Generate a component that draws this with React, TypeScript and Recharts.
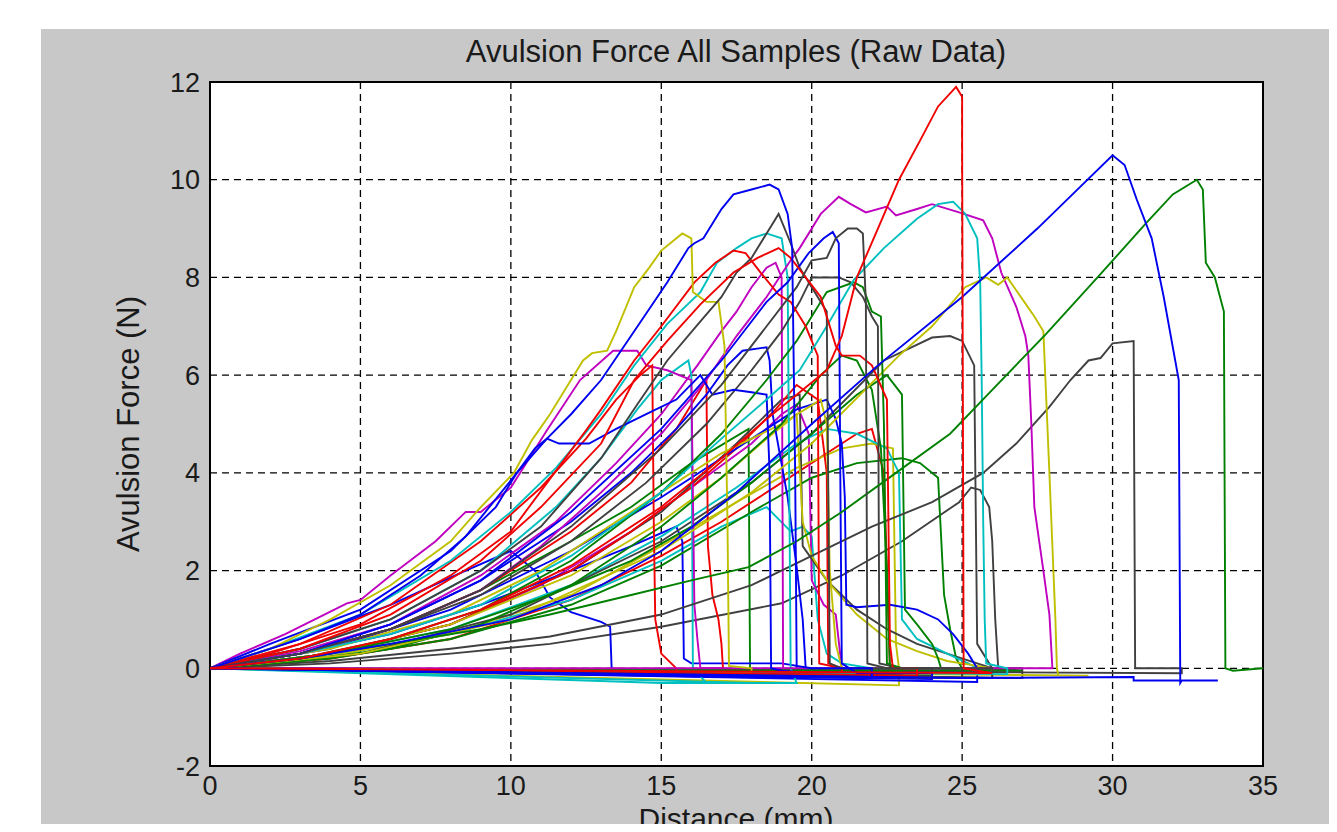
import { LineChart, Line, XAxis, YAxis, CartesianGrid, ReferenceArea } from "recharts";

// ── Axis ticks ───────────────────────────────────────────────
const xTicks = [0, 5, 10, 15, 20, 25, 30, 35];
const yTicks = [-2, 0, 2, 4, 6, 8, 10, 12];

type Pt = [number, number];

// ── Samples (distance mm, force N) ───────────────────────────
const blueTall: Pt[] = [[0, 0], [1, 0.2], [3, 0.6], [5, 1.1], [7, 1.9], [8.5, 2.7], [10.2, 4.0], [11.2, 4.7], [12, 5.2], [13, 5.9], [14.1, 6.9], [15.2, 7.9], [15.9, 8.6], [16.1, 8.7], [16.4, 8.8], [17, 9.4], [17.4, 9.7], [18, 9.8], [18.6, 9.9], [18.9, 9.8], [19.2, 9.3], [19.35, 8.6], [19.45, 4.0], [19.5, 0.05], [20, 0], [22, 0], [22, -0.2], [0, 0]];
const greenLong: Pt[] = [[0, 0], [3, 0.2], [6, 0.5], [9, 0.8], [11.3, 1.1], [14, 1.5], [16, 1.8], [17.9, 2.07], [19.5, 2.6], [21, 3.2], [22.8, 4.0], [24.6, 4.8], [26, 5.7], [27.8, 6.85], [29.5, 8.0], [31.1, 9.1], [32, 9.7], [32.8, 10], [33, 9.8], [33.1, 8.3], [33.4, 8.0], [33.7, 7.3], [33.75, 0], [34, -0.05], [35, 0]];
const redA: Pt[] = [[0, 0], [2, 0.3], [5, 0.9], [8, 1.9], [10, 2.8], [12.5, 4.87], [13, 5.3], [14.1, 6.3], [15, 7.0], [16.1, 7.9], [16.8, 8.3], [17.4, 8.55], [17.8, 8.5], [18.3, 8.1], [18.9, 7.65], [19.3, 7.5], [19.8, 7.0], [20.2, 6.4], [20.25, 0.1], [21, 0], [21, -0.1], [0, 0]];
const cyanPeak: Pt[] = [[0, 0], [2, 0.4], [5, 1.1], [8, 2.2], [10, 3.2], [11.5, 4.1], [13, 5.2], [14.1, 6.2], [15.2, 7.05], [16.3, 7.7], [16.85, 8.3], [17.5, 8.6], [18, 8.8], [18.5, 8.9], [19, 8.8], [19.2, 8.0], [19.25, 4.0], [19.3, 0], [19.5, -0.3], [15, -0.3], [0, 0]];
const magentaEarly: Pt[] = [[0, 0], [1, 0.3], [2.5, 0.7], [4.55, 1.33], [5, 1.4], [6, 1.9], [7.5, 2.6], [8.5, 3.2], [9, 3.2], [10, 3.7], [11.2, 4.87], [12.3, 5.9], [13.4, 6.5], [14.2, 6.5], [14.5, 6.2], [15.2, 6.1], [16, 5.9], [16.1, 1.3], [16.2, 0.6], [16.3, 0], [17, 0], [17, -0.15], [0, 0]];
const yellowPeak: Pt[] = [[0, 0], [2, 0.4], [4, 1.0], [6, 1.7], [8, 2.6], [9, 3.3], [10.1, 4.0], [10.7, 4.67], [11.3, 5.2], [11.85, 5.75], [12.4, 6.3], [12.7, 6.45], [13.2, 6.5], [13.5, 6.9], [14.1, 7.8], [14.6, 8.2], [15, 8.55], [15.4, 8.75], [15.7, 8.9], [16, 8.8], [16.05, 7.7], [16.5, 7.5], [16.9, 7.5], [17.1, 6.6], [17.2, 3.0], [17.25, 0.05], [18, 0], [18, -0.1], [0, 0]];
const grayA: Pt[] = [[0, 0], [3, 0.4], [6, 1.0], [9, 2.0], [11, 2.9], [13, 4.3], [14.2, 5.4], [15.2, 6.3], [16.3, 7.1], [17, 7.6], [17.5, 8.1], [18, 8.4], [18.5, 8.9], [18.9, 9.3], [19.3, 8.7], [19.6, 8.2], [20, 7.8], [20.5, 7.3], [20.6, 0.1], [21, 0], [24, 0], [24, -0.15], [0, 0]];
const blueKink: Pt[] = [[0, 0], [2, 0.5], [5, 1.2], [8, 2.4], [9.5, 3.3], [10.2, 4.0], [10.8, 4.5], [11.2, 4.7], [11.6, 4.6], [12.6, 4.6], [13.5, 4.9], [14.5, 5.2], [15.5, 5.5], [16.3, 6.0], [16.7, 5.6], [17.4, 5.7], [18, 5.65], [18.5, 5.6], [18.6, 4.0], [18.65, 0], [19, -0.05], [20, -0.1], [0, 0]];
const greenA: Pt[] = [[0, 0], [3, 0.2], [6, 0.6], [9, 1.2], [12, 2.2], [15, 3.6], [17, 4.8], [18.5, 5.9], [19.5, 6.7], [20.5, 7.7], [21.4, 7.9], [21.7, 7.8], [22, 7.3], [22.3, 7.2], [22.4, 5.0], [22.5, 0.1], [23, 0], [23, -0.12], [0, 0]];
const redB: Pt[] = [[0, 0], [3, 0.4], [6, 1.1], [9, 2.2], [11, 3.3], [13, 4.6], [14.1, 5.9], [15.2, 6.7], [16.3, 7.45], [17.4, 8.1], [18.2, 8.4], [18.9, 8.6], [19.3, 8.4], [19.8, 8.0], [20.3, 7.6], [20.8, 6.6], [21, 6.4], [21.6, 6.4], [22, 6.2], [22.5, 5.5], [22.6, 0.5], [22.7, 0], [23.5, 0], [23.5, -0.15], [0, 0]];
const cyanDrop: Pt[] = [[0, 0], [3, 0.4], [6, 1.0], [9, 2.0], [11.5, 3.3], [13, 4.3], [14.2, 5.3], [15, 5.9], [15.9, 6.3], [16, 6.0], [16.05, 0], [16.5, -0.3], [18, -0.3], [0, 0]];
const magentaSteep: Pt[] = [[0, 0], [3, 0.35], [6, 0.9], [9, 1.9], [11.5, 3.0], [13.5, 4.2], [15, 5.2], [16.2, 6.2], [17, 6.9], [17.5, 7.3], [18, 7.8], [18.5, 8.2], [18.8, 8.3], [19, 8.0], [19.05, 0], [19.5, -0.05], [0, 0]];
const yellowMid: Pt[] = [[0, 0], [4, 0.4], [8, 1.1], [11, 2.0], [13, 2.8], [15, 3.6], [17, 4.4], [19, 5.0], [20.3, 5.5], [20.5, 5.0], [20.6, 2.0], [20.8, 0.5], [21, 0], [21, -0.12], [0, 0]];
const grayB: Pt[] = [[0, 0], [3, 0.3], [6, 0.8], [9, 1.6], [12, 2.9], [15, 4.5], [17, 5.8], [18.5, 7.0], [19.5, 7.8], [20, 8.35], [20.5, 8.4], [20.8, 8.8], [21.2, 9.0], [21.5, 9.0], [21.7, 8.9], [21.8, 7.5], [21.85, 0.1], [22.5, 0], [25, 0], [25, -0.2], [0, 0]];
const blueC: Pt[] = [[0, 0], [3, 0.3], [6, 0.9], [9, 1.8], [12, 3.2], [15, 4.9], [17, 6.3], [18.5, 7.5], [19.2, 7.9], [19.9, 8.5], [20.4, 8.8], [20.7, 8.93], [20.9, 8.7], [20.95, 4.0], [21, 0.1], [21.5, -0.1], [24, -0.1], [24, -0.22], [0, 0]];
const greenB: Pt[] = [[0, 0], [3, 0.15], [6, 0.4], [9, 0.9], [12, 1.7], [15, 2.9], [17, 3.9], [19, 5.0], [20.3, 6.0], [21, 6.4], [21.5, 6.3], [22, 5.7], [22.3, 4.5], [22.5, 2.0], [22.6, 0], [23, -0.05], [0, 0]];
const redTall: Pt[] = [[0, 0], [3, 0.2], [6, 0.6], [9, 1.2], [12, 2.1], [15, 3.3], [17, 4.3], [18.5, 5.1], [19.5, 5.6], [20.5, 6.1], [21, 6.8], [21.5, 8.0], [22.2, 9.0], [22.9, 10], [23.6, 10.8], [24.2, 11.5], [24.8, 11.9], [25, 11.7], [25, 10.6], [25.05, 0], [25.5, -0.05], [26, -0.1], [0, 0]];
const cyanPlateau: Pt[] = [[0, 0], [3, 0.3], [6, 0.7], [9, 1.3], [12, 2.3], [15, 3.6], [17, 4.7], [18.5, 5.5], [19.6, 6.1], [20.5, 7.0], [21.4, 7.95], [22.4, 8.6], [23.5, 9.2], [24.2, 9.5], [24.7, 9.55], [25.1, 9.3], [25.5, 8.8], [25.6, 7.9], [25.65, 5.9], [25.7, 3.0], [25.75, 1.0], [25.8, 0.1], [26.5, 0], [26.5, -0.12], [0, 0]];
const magentaPlateau: Pt[] = [[0, 0], [3, 0.3], [6, 0.8], [9, 1.6], [11, 2.5], [13, 3.6], [15, 4.8], [16.5, 5.9], [17.5, 6.8], [18.5, 7.6], [19.3, 8.35], [19.6, 8.6], [20.3, 9.3], [20.9, 9.65], [21.3, 9.5], [21.8, 9.33], [22.5, 9.45], [22.8, 9.27], [23.5, 9.4], [24, 9.5], [24.9, 9.33], [25.7, 9.17], [26, 8.8], [26.3, 8.1], [26.8, 7.4], [27.1, 6.8], [27.2, 6.4], [27.3, 5.0], [27.4, 3.3], [27.7, 2.0], [27.9, 1.1], [28, 0], [0, 0]];
const yellowPlateau: Pt[] = [[0, 0], [5, 0.3], [10, 1.0], [15, 2.4], [18, 3.6], [20, 4.6], [22.9, 6.4], [24, 7.0], [25.1, 7.8], [25.8, 8.0], [26.2, 7.85], [26.5, 8.0], [27.4, 7.2], [27.7, 6.9], [27.9, 4.0], [28.1, 1.0], [28.15, 0], [28.2, -0.15], [29.2, -0.15], [0, 0]];
const grayC: Pt[] = [[0, 0], [3, 0.3], [6, 0.8], [9, 1.5], [12, 2.6], [14.5, 3.8], [16.5, 5.0], [18, 6.1], [19, 6.9], [19.6, 7.5], [20, 8.0], [20.5, 8.0], [20.9, 8.0], [21.3, 7.9], [21.7, 7.6], [22, 7.2], [22.2, 7.0], [22.25, 0.1], [23, 0], [26, 0], [26, -0.2], [0, 0]];
const blueLong: Pt[] = [[0, 0], [3, 0.2], [6, 0.5], [10, 1.0], [13, 1.7], [15, 2.4], [17.5, 3.6], [20, 5.0], [22.2, 6.2], [25, 7.6], [27.5, 9.0], [29, 9.9], [30, 10.5], [30.4, 10.3], [30.8, 9.6], [31.3, 8.8], [31.7, 7.6], [32.2, 5.9], [32.25, -0.3], [32.3, -0.25], [33.5, -0.25], [30.7, -0.25], [30.7, -0.18], [25, -0.2], [0, 0]];
const greenC: Pt[] = [[0, 0], [3, 0.3], [6, 0.8], [9, 1.6], [12, 2.6], [14, 3.3], [16, 4.2], [17.9, 4.9], [17.95, 0], [18.5, -0.05], [0, 0]];
const redDrop: Pt[] = [[0, 0], [3, 0.5], [6, 1.3], [9, 2.6], [11, 3.7], [12.5, 4.7], [13.5, 5.5], [14.3, 6.0], [14.7, 6.2], [14.75, 3.0], [14.8, 1.0], [15, 0.3], [15.5, 0], [15.5, -0.1], [0, 0]];
const cyanTail: Pt[] = [[0, 0], [4, 0.3], [8, 0.8], [12, 1.7], [15, 2.7], [17.5, 3.7], [19.5, 4.6], [20.5, 4.9], [21.5, 4.8], [22.5, 4.5], [22.9, 4.0], [23, 1.0], [23.5, 0.6], [24.5, 0.3], [25.2, 0.1], [25.5, 0], [25.5, -0.2], [0, 0]];
const magentaLow: Pt[] = [[0, 0], [4, 0.3], [8, 0.9], [11, 1.7], [14, 2.8], [16, 3.7], [18, 4.6], [19, 5.2], [19.5, 5.4], [19.9, 4.8], [20, 1.8], [20.4, 1.3], [20.8, 1.1], [21, 0], [21, -0.1], [0, 0]];
const yellowDecay: Pt[] = [[0, 0], [4, 0.3], [8, 0.9], [12, 1.9], [15, 3.0], [17, 3.9], [18.5, 4.7], [19.5, 5.2], [19.7, 3.0], [20, 2.3], [20.5, 1.8], [21.5, 1.1], [22.5, 0.6], [23.5, 0.35], [24.5, 0.15], [25.5, 0.05], [26, 0], [26, -0.1], [0, 0]];
const grayMid: Pt[] = [[0, 0], [5, 0.3], [10, 1.1], [15, 2.6], [18, 3.8], [20, 4.8], [22.4, 6.3], [24, 6.77], [24.6, 6.8], [25, 6.7], [25.4, 6.2], [25.5, 0.5], [26, 0], [27, 0], [27, -0.2], [0, 0]];
const blueTail: Pt[] = [[0, 0], [4, 0.4], [8, 1.2], [12, 2.4], [15, 3.5], [17, 4.3], [18.5, 4.9], [19.5, 5.3], [20.5, 5.5], [20.8, 5.1], [21, 4.6], [21.1, 3.5], [21.15, 1.3], [21.5, 1.25], [22.6, 1.3], [23.5, 1.2], [24.2, 1.0], [24.7, 0.7], [25.2, 0.3], [25.5, 0], [25.5, -0.28], [0, 0]];
const greenD: Pt[] = [[0, 0], [4, 0.2], [8, 0.6], [12, 1.3], [15, 2.1], [18, 3.2], [20, 3.9], [21.5, 4.2], [23, 4.3], [23.6, 4.2], [24.2, 3.9], [24.4, 1.5], [24.6, 0.8], [24.8, 0.2], [25, 0], [27, -0.05], [0, 0]];
const redDip: Pt[] = [[0, 0], [3, 0.3], [6, 0.8], [9, 1.6], [12, 2.8], [14, 3.8], [15.5, 4.9], [16.2, 5.6], [16.5, 5.9], [16.55, 2.5], [16.7, 1.5], [16.9, 1.0], [17, 0.5], [17.05, 0], [18, -0.1], [0, 0]];
const grayLong: Pt[] = [[0, 0], [4, 0.15], [8, 0.4], [11.3, 0.65], [15, 1.1], [18, 1.7], [20, 2.3], [22, 2.9], [24, 3.4], [25.7, 4.0], [26.8, 4.6], [27.9, 5.35], [28.6, 5.9], [29.2, 6.3], [29.6, 6.35], [30, 6.65], [30.7, 6.7], [30.75, 0], [32.3, 0], [32.3, -0.1], [0, 0]];
const blueBump: Pt[] = [[0, 0], [3, 0.3], [6, 0.9], [9, 1.8], [12, 3.0], [14, 4.0], [15.5, 4.9], [16.5, 5.6], [17.2, 6.2], [17.7, 6.5], [18.5, 6.57], [18.6, 6.3], [18.7, 5.2], [19.2, 3.5], [19.5, 2.07], [19.7, 1.0], [19.8, 0], [19.8, -0.2], [0, 0]];
const greenE: Pt[] = [[0, 0], [4, 0.3], [8, 0.8], [11.3, 1.5], [14, 2.2], [16, 2.9], [18, 3.8], [20, 4.8], [21.5, 5.6], [22.5, 6.0], [23, 5.6], [23.1, 1.2], [23.5, 0.9], [24, 0.5], [24.2, 0.2], [24.3, 0], [25, -0.05], [0, 0]];
const redLow: Pt[] = [[0, 0], [4, 0.3], [8, 0.9], [12, 2.0], [14, 2.8], [16, 3.7], [17.5, 4.5], [18.8, 5.3], [19.5, 5.8], [20.2, 5.5], [20.5, 4.0], [20.55, 0.1], [21, 0], [21, -0.1], [0, 0]];
const cyanLow: Pt[] = [[0, 0], [4, 0.25], [8, 0.7], [12, 1.4], [15, 2.2], [17, 2.9], [18.5, 3.3], [19.3, 2.8], [19.7, 2.9], [20, 2.7], [20.2, 1.0], [20.5, 0.3], [21, 0.1], [22, 0], [22, -0.1], [0, 0]];
const yellowLow: Pt[] = [[0, 0], [4, 0.25], [8, 0.7], [12, 1.5], [15, 2.5], [17.5, 3.4], [19.5, 4.1], [21, 4.5], [22, 4.6], [22.7, 4.5], [22.8, 0.5], [22.9, 0], [22.9, -0.35], [0, 0]];
const blueLow: Pt[] = [[0, 0], [3, 0.6], [6, 1.3], [8.5, 2.0], [10, 2.4], [10.8, 2.0], [11.3, 1.45], [12, 1.15], [13, 0.95], [13.3, 0.85], [13.35, 0], [14, -0.05], [0, 0]];
const grayLow: Pt[] = [[0, 0], [4, 0.1], [8, 0.3], [11.3, 0.5], [15, 0.85], [19, 1.33], [21, 1.9], [23, 2.6], [24.9, 3.4], [25.3, 3.7], [25.6, 3.65], [25.9, 3.3], [26, 2.6], [26.1, 1.0], [26.2, 0], [27, -0.05], [0, 0]];
const redShallow: Pt[] = [[0, 0], [4, 0.2], [8, 0.6], [12, 1.4], [15, 2.3], [17, 3.0], [19, 3.8], [20.5, 4.4], [21.5, 4.8], [22, 4.9], [22.4, 4.0], [22.5, 2.07], [22.6, 0], [23, -0.1], [0, 0]];
const blueStep: Pt[] = [[0, 0], [3, 0.3], [6, 0.7], [9, 1.3], [12, 2.0], [14, 2.5], [15.5, 2.9], [15.7, 2.6], [15.75, 0.2], [16, 0.1], [19, 0.1], [19.5, 0.05], [19.5, -0.2], [0, 0]];
const grayDecay: Pt[] = [[0, 0], [4, 0.3], [8, 0.9], [12, 2.0], [15, 3.2], [17.5, 4.6], [19, 5.5], [19.6, 5.6], [19.7, 2.5], [20.5, 1.8], [21.5, 1.2], [22.5, 0.8], [23.5, 0.5], [24.5, 0.3], [25.5, 0.1], [26, 0], [26, -0.2], [0, 0]];

const BLUE = "#0000f0";
const GREEN = "#008000";
const RED = "#f00000";
const CYAN = "#00bfbf";
const MAGENTA = "#bf00bf";
const YELLOW = "#bfbf00";
const BLACK = "#404040";

const samples: { pts: Pt[]; color: string }[] = [
  { pts: grayLow, color: BLACK },
  { pts: blueLow, color: BLUE },
  { pts: greenC, color: GREEN },
  { pts: redShallow, color: RED },
  { pts: cyanLow, color: CYAN },
  { pts: magentaLow, color: MAGENTA },
  { pts: yellowLow, color: YELLOW },
  { pts: grayDecay, color: BLACK },
  { pts: blueStep, color: BLUE },
  { pts: greenD, color: GREEN },
  { pts: redLow, color: RED },
  { pts: cyanTail, color: CYAN },
  { pts: magentaSteep, color: MAGENTA },
  { pts: yellowDecay, color: YELLOW },
  { pts: grayMid, color: BLACK },
  { pts: blueTail, color: BLUE },
  { pts: greenE, color: GREEN },
  { pts: redDip, color: RED },
  { pts: cyanDrop, color: CYAN },
  { pts: magentaEarly, color: MAGENTA },
  { pts: yellowMid, color: YELLOW },
  { pts: grayLong, color: BLACK },
  { pts: blueBump, color: BLUE },
  { pts: greenB, color: GREEN },
  { pts: redDrop, color: RED },
  { pts: cyanPeak, color: CYAN },
  { pts: magentaPlateau, color: MAGENTA },
  { pts: yellowPlateau, color: YELLOW },
  { pts: grayC, color: BLACK },
  { pts: blueKink, color: BLUE },
  { pts: greenA, color: GREEN },
  { pts: redA, color: RED },
  { pts: cyanPlateau, color: CYAN },
  { pts: yellowPeak, color: YELLOW },
  { pts: grayA, color: BLACK },
  { pts: blueC, color: BLUE },
  { pts: greenLong, color: GREEN },
  { pts: redB, color: RED },
  { pts: grayB, color: BLACK },
  { pts: blueTall, color: BLUE },
  { pts: blueLong, color: BLUE },
  { pts: redTall, color: RED },
];

const FONT = "'Liberation Sans', Arial, sans-serif";
const TEXT = "#1a1a1a";

export default function App() {
  return (
    <div
      style={{
        position: "relative",
        width: 1337,
        height: 832,
        margin: -8,
        overflow: "hidden",
        background: "#fff",
        fontFamily: FONT,
      }}
    >
      <div style={{ position: "absolute", left: 41, top: 29, right: 0, bottom: 0, background: "#c8c8c8" }} />

      <div style={{ position: "absolute", left: 0, top: 0 }}>
        <LineChart width={1337} height={832} margin={{ top: 82, right: 74, bottom: 26, left: 150 }}>
          <CartesianGrid
            fill="#ffffff"
            stroke="#000"
            strokeWidth={1.3}
            strokeDasharray="7 5"
            horizontalValues={yTicks}
            verticalValues={xTicks}
          />
          <XAxis
            type="number"
            dataKey="x"
            domain={[0, 35]}
            ticks={xTicks}
            allowDataOverflow
            height={40}
            axisLine={false}
            tickLine={false}
            tickSize={6}
            tickMargin={4}
            tick={{ fontSize: 27, fill: TEXT, fontFamily: FONT }}
          />
          <YAxis
            type="number"
            domain={[-2, 12]}
            ticks={yTicks}
            allowDataOverflow
            width={60}
            axisLine={false}
            tickLine={false}
            tickSize={6}
            tickMargin={4}
            tick={{ fontSize: 27, fill: TEXT, fontFamily: FONT }}
          />
          {samples.map((s, i) => (
            <Line
              key={i}
              data={s.pts.map(([x, y]) => ({ x, y }))}
              dataKey="y"
              type="linear"
              stroke={s.color}
              strokeWidth={1.9}
              dot={false}
              activeDot={false}
              isAnimationActive={false}
            />
          ))}
          <ReferenceArea x1={0} x2={35} y1={-2} y2={12} fill="none" stroke="#000" strokeWidth={2} />
        </LineChart>
      </div>

      <div
        style={{
          position: "absolute",
          left: 336,
          width: 800,
          top: 37,
          fontSize: 31,
          lineHeight: "30px",
          textAlign: "center",
          color: TEXT,
          whiteSpace: "nowrap",
        }}
      >
        Avulsion Force All Samples (Raw Data)
      </div>

      <div
        style={{
          position: "absolute",
          left: 336,
          width: 800,
          top: 806,
          height: 26,
          fontSize: 30,
          lineHeight: "26px",
          textAlign: "center",
          color: TEXT,
          whiteSpace: "nowrap",
        }}
      >
        Distance (mm)
      </div>

      <div
        style={{
          position: "absolute",
          left: 129 - 200,
          top: 424 - 17,
          width: 400,
          height: 34,
          fontSize: 31,
          lineHeight: "34px",
          textAlign: "center",
          color: TEXT,
          whiteSpace: "nowrap",
          transform: "rotate(-90deg)",
        }}
      >
        Avulsion Force (N)
      </div>
    </div>
  );
}
